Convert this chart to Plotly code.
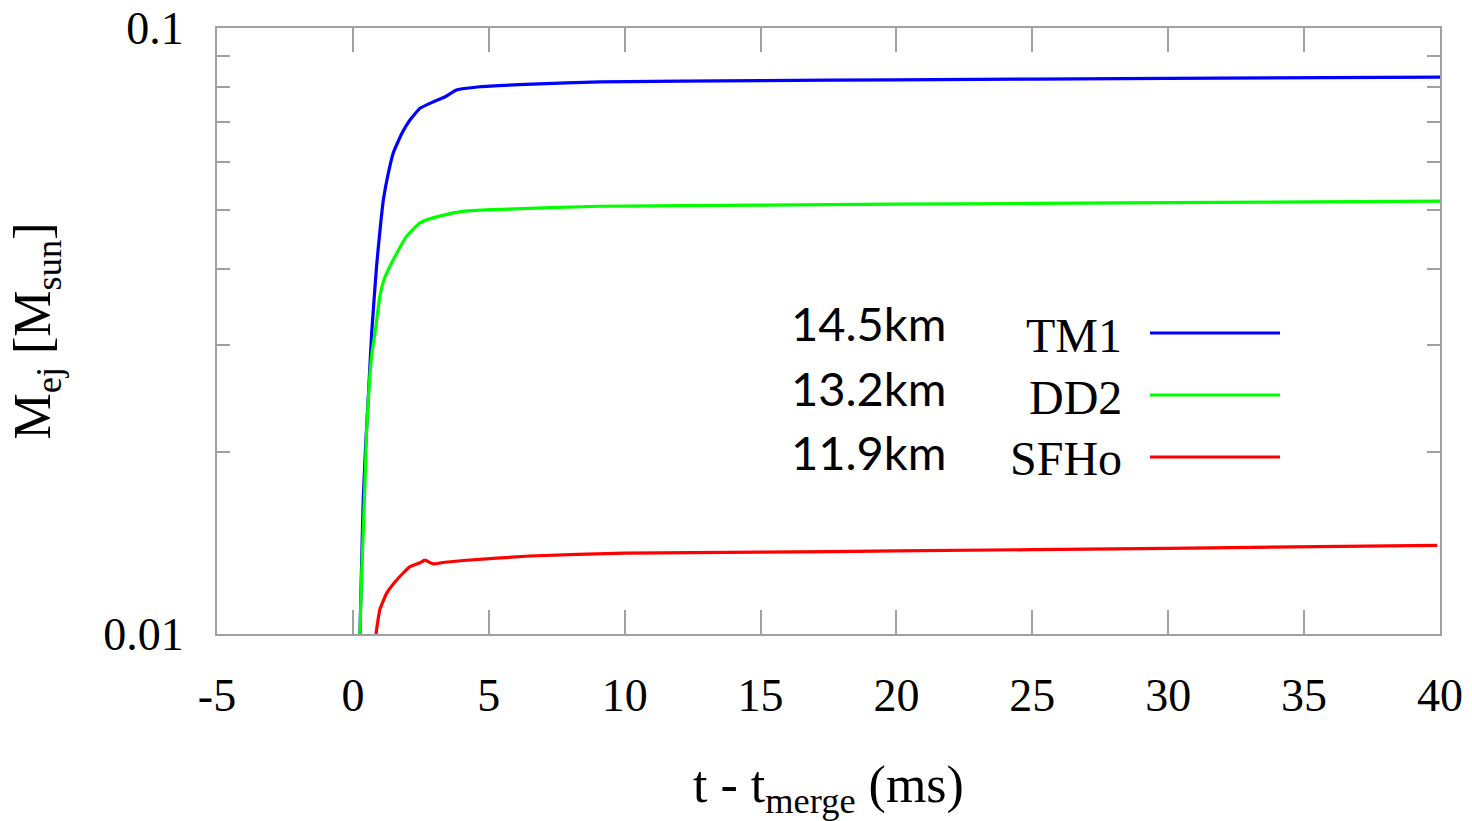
import plotly.graph_objects as go

# Ejected mass vs time after merger for three equations of state
eos_names = ["TM1", "DD2", "SFHo"]
radius_labels = ["14.5km", "13.2km", "11.9km"]
colors = ["#0000ff", "#00ff00", "#ff0000"]

t_tm1 = [0.26, 0.32, 0.38, 0.47, 0.56, 0.69, 0.87, 1.0, 1.12, 1.3, 1.48, 1.8, 2.1,
         2.47, 2.95, 3.4, 3.81, 4.67, 6.6, 9.1, 15, 20, 30, 40]
m_tm1 = [0.0100, 0.0130, 0.0166, 0.0205, 0.0243, 0.0313, 0.0404, 0.0465, 0.0520,
         0.0575, 0.0621, 0.0670, 0.0705, 0.0737, 0.0755, 0.0770, 0.0790, 0.0800,
         0.0808, 0.0815, 0.0819, 0.0821, 0.0826, 0.0830]

t_dd2 = [0.26, 0.32, 0.38, 0.45, 0.50, 0.57, 0.63, 0.72, 0.81, 0.99, 1.15, 1.36,
         1.48, 1.97, 2.47, 2.95, 3.5, 4.18, 5.41, 9.09, 15, 20, 30, 40]
m_dd2 = [0.0100, 0.0125, 0.0147, 0.0180, 0.0214, 0.0245, 0.0269, 0.0295, 0.0313,
         0.0360, 0.0385, 0.0404, 0.0414, 0.0453, 0.0477, 0.0486, 0.0493, 0.0499,
         0.0502, 0.0508, 0.0510, 0.0512, 0.0515, 0.0518]

t_sfho = [0.85, 0.99, 1.24, 1.61, 2.10, 2.45, 2.65, 2.95, 3.3, 4.06, 6.51, 10,
          15, 20, 30, 39.9]
m_sfho = [0.0100, 0.01096, 0.01167, 0.01228, 0.01292, 0.01310, 0.01324, 0.01305,
          0.01312, 0.01322, 0.01345, 0.01360, 0.01365, 0.01371, 0.01385, 0.01400]

x_ticks = [-5, 0, 5, 10, 15, 20, 25, 30, 35, 40]
x_tick_text = ["-5", "0", "5", "10", "15", "20", "25", "30", "35", "40"]
y_ticks = [0.01, 0.1]
y_tick_text = ["0.01", "0.1"]
y_minor = [0.02, 0.03, 0.04, 0.05, 0.06, 0.07, 0.08, 0.09]

serif = "Liberation Serif"
frame = "#a0a0a0"

# plot area in pixels
L, R, T, B = 217, 1440, 28, 634


def px(xp):
    return (xp - L) / (R - L)


def py(yp):
    return (B - yp) / (B - T)


fig = go.Figure()
for t, m, c, name in [(t_tm1, m_tm1, colors[0], eos_names[0]),
                      (t_dd2, m_dd2, colors[1], eos_names[1]),
                      (t_sfho, m_sfho, colors[2], eos_names[2])]:
    fig.add_trace(go.Scatter(x=t, y=m, mode="lines", name=name,
                             line=dict(color=c, width=3.2, shape="spline", smoothing=0.4),
                             showlegend=False))

# Key: radius label, EOS name and a line sample per row
label_y = [323, 388, 452]
name_y = [335, 397, 458]
line_y = [333, 395, 457]
for i in range(3):
    fig.add_annotation(x=px(789), y=py(label_y[i]), xref="paper", yref="paper",
                       text=radius_labels[i], showarrow=False, xanchor="left", yanchor="middle",
                       font=dict(family="Lato", size=47, color="black"))
    fig.add_annotation(x=px(1124), y=py(name_y[i]), xref="paper", yref="paper",
                       text=eos_names[i], showarrow=False, xanchor="right", yanchor="middle",
                       font=dict(family=serif, size=48, color="black"))
    fig.add_shape(type="line", xref="paper", yref="paper",
                  x0=px(1150), x1=px(1280), y0=py(line_y[i]), y1=py(line_y[i]),
                  line=dict(color=colors[i], width=3))

fig.update_xaxes(range=[-5, 40], tickvals=x_ticks, ticktext=x_tick_text,
                 ticks="inside", ticklen=24, automargin=False,
                 tickwidth=2, tickcolor=frame, showline=True, linecolor=frame,
                 linewidth=2, mirror="allticks", showgrid=False, zeroline=False,
                 ticklabelstandoff=20,
                 tickfont=dict(family=serif, size=46, color="black"),
                 title=dict(text="t - t<sub>merge</sub> (ms)", standoff=50,
                            font=dict(family=serif, size=52, color="black")))
fig.update_yaxes(type="log", range=[-2, -1], tickvals=y_ticks, ticktext=y_tick_text,
                 ticks="inside", ticklen=13, tickwidth=2, tickcolor=frame,
                 minor=dict(tickvals=y_minor, ticks="inside", ticklen=13,
                            tickwidth=2, tickcolor=frame),
                 showline=True, linecolor=frame, linewidth=2, mirror="allticks",
                 showgrid=False, zeroline=False, ticklabelstandoff=22, automargin=False,
                 tickfont=dict(family=serif, size=46, color="black"),
                 title=dict(text="M<sub>ej</sub> [M<sub>sun</sub>]", standoff=36,
                            font=dict(family=serif, size=52, color="black")))

fig.update_layout(width=1472, height=821, plot_bgcolor="white", paper_bgcolor="white",
                  margin=dict(l=L, r=1472 - R, t=T, b=821 - B), showlegend=False)

fig.write_html("out.html")
